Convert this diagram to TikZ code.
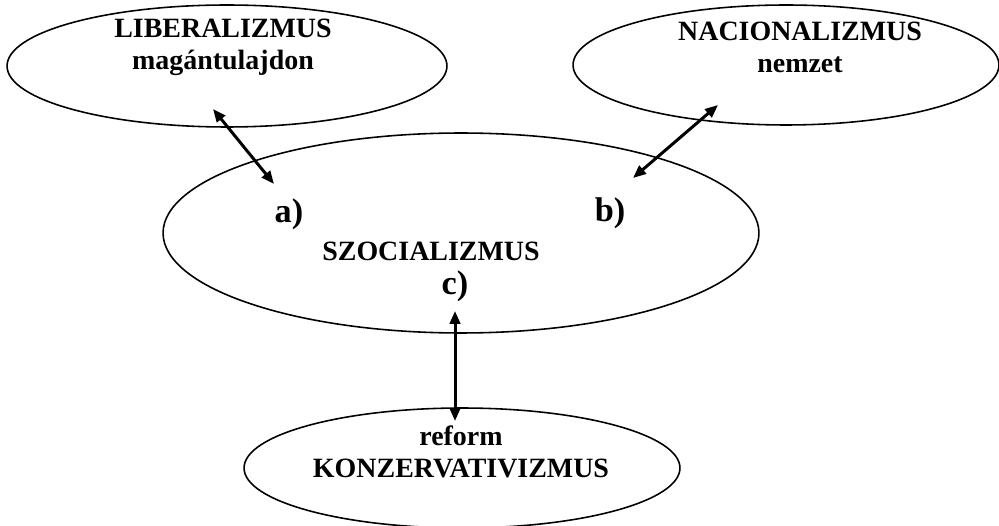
\documentclass[tikz,border=0pt]{standalone}
\usepackage{fontspec}
\setmainfont{Liberation Serif}
\usetikzlibrary{shapes.geometric,arrows.meta}
\tikzset{
  blob/.style={draw, ellipse, line width=0.9pt, inner sep=0pt},
  lbl/.style={font=\bfseries\fontsize{15.9}{18.1}\selectfont, align=center},
  tag/.style={font=\bfseries\fontsize{19.5}{22}\selectfont},
  link/.style={{Triangle[length=0.26cm,width=0.21cm]}-{Triangle[length=0.26cm,width=0.21cm]}, line width=1.7pt}
}
\begin{document}
\begin{tikzpicture}[x=0.02cm, y=-0.02cm]
        \useasboundingbox (0,0) rectangle (999,526);
        \node[blob, minimum width=8.8cm, minimum height=2.44cm] (lib) at (227,66) {}; 
        \node[blob, minimum width=8.52cm, minimum height=2.4cm] (nac) at (786,65) {}; 
        \node[blob, minimum width=11.92cm, minimum height=4cm] (szoc) at (461,233) {}; 
        \node[blob, minimum width=8.72cm, minimum height=2.4cm] (konz) at (462,468) {}; 
        \node[lbl] (libtext) at (223,47) {LIBERALIZMUS\\magántulajdon}; 
        \node[lbl] (nactext) at (800,47) {NACIONALIZMUS\\nemzet}; 
        \node[lbl] (szoctext) at (431,251) {SZOCIALIZMUS}; 
        \node[lbl] (konztext) at (461,452) {reform\\KONZERVATIVIZMUS}; 
        \node[tag] (a) at (289,214) {a)}; 
        \node[tag] (b) at (610,213) {b)}; 
        \node[tag] (c) at (455,286) {c)}; 
        \coordinate (libend) at (213,109); 
        \coordinate (aend) at (274,184); 
        \coordinate (nacend) at (718,105); 
        \coordinate (bend) at (633,178); 
        \coordinate (cend) at (455,311); 
        \coordinate (konzend) at (455,421); 
        \draw[link] (libend) -- (aend); 
        \draw[link] (nacend) -- (bend); 
        \draw[link] (cend) -- (konzend); 
\end{tikzpicture}
\end{document}
